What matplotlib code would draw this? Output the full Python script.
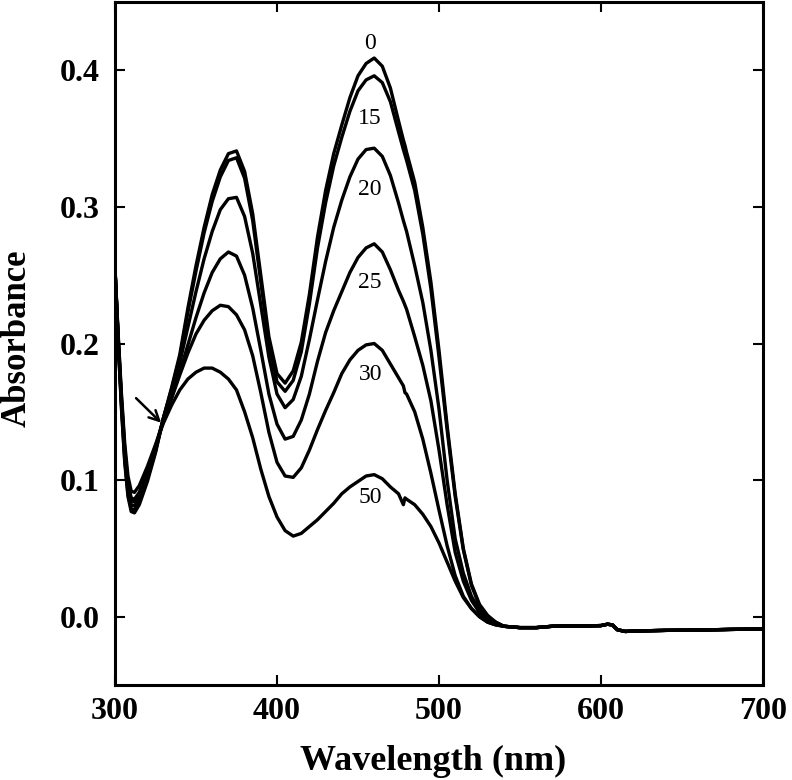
import matplotlib
matplotlib.use("Agg")
import matplotlib.pyplot as plt

# wavelength grid for the absorbing region (nm)
wl = [300, 302, 304, 306, 308, 310, 312, 315, 320, 325, 330, 335, 340, 345,
      350, 355, 360, 365, 370, 375, 380, 385, 390, 395, 400, 405, 410, 415,
      420, 425, 430, 435, 440, 445, 450, 455, 460, 465, 470, 475, 478, 479,
      480, 485, 490, 495, 500, 505, 510, 515, 520, 525, 530, 535]

# shared flat baseline past the bands
base_wl = [540, 550, 560, 570, 580, 590, 600, 604, 607, 610, 615, 620, 640,
           660, 680, 700]
base_abs = [-0.007, -0.008, -0.008, -0.007, -0.0068, -0.0068, -0.0065,
            -0.0055, -0.006, -0.0095, -0.0108, -0.0105, -0.0100, -0.0098,
            -0.0093, -0.0090]

labels = ["0", "15", "20", "25", "30", "50"]

abs_0 = [.255, .200, .152, .113, .088, .077, .076, .082, .099, .120, .146, .168,
         .192, .226, .257, .285, .309, .327, .339, .341, .326, .295, .250, .205,
         .178, .171, .180, .201, .236, .278, .312, .339, .360, .380, .396, .405,
         .409, .403, .387, .363, .349, .345, .340, .318, .285, .245, .195, .140,
         .090, .050, .024, .009, .001, -.004]
abs_15 = [.255, .201, .154, .115, .090, .079, .078, .084, .101, .121, .146, .167,
          .190, .223, .253, .281, .304, .322, .334, .336, .321, .290, .245, .200,
          .172, .165, .173, .194, .229, .270, .303, .330, .351, .370, .385, .393,
          .396, .391, .377, .355, .342, .338, .334, .312, .280, .240, .190, .137,
          .088, .049, .023, .008, .000, -.004]
abs_20 = [.254, .202, .156, .118, .093, .082, .081, .087, .103, .122, .146, .165,
          .186, .212, .238, .262, .282, .298, .306, .307, .293, .266, .228, .190,
          .163, .153, .159, .176, .203, .232, .260, .285, .305, .322, .335, .342,
          .343, .337, .323, .303, .290, .286, .282, .257, .230, .195, .152, .100,
          .057, .032, .015, .005, -.002, -.005]
abs_25 = [.254, .203, .158, .121, .096, .085, .084, .089, .105, .123, .145, .161,
          .179, .199, .219, .237, .252, .262, .267, .264, .250, .226, .195, .163,
          .141, .130, .132, .144, .163, .187, .208, .224, .238, .252, .263, .270,
          .273, .267, .254, .239, .231, .228, .225, .205, .184, .158, .122, .082,
          .047, .026, .012, .003, -.003, -.005]
abs_30 = [.254, .204, .160, .123, .098, .087, .086, .091, .107, .125, .145, .160,
          .177, .193, .207, .217, .224, .228, .227, .221, .210, .191, .164, .135,
          .113, .103, .102, .109, .122, .137, .151, .164, .178, .188, .195, .199,
          .200, .195, .185, .175, .169, .164, .163, .150, .130, .105, .078, .052,
          .030, .015, .006, .000, -.004, -.006]
abs_50 = [.255, .206, .163, .127, .103, .092, .091, .096, .110, .126, .142, .155,
          .166, .174, .179, .182, .182, .179, .174, .166, .150, .131, .108, .088,
          .073, .063, .059, .061, .066, .071, .077, .083, .090, .095, .099, .103,
          .104, .101, .095, .090, .082, .087, .086, .082, .075, .066, .054, .040,
          .026, .014, .006, .000, -.004, -.006]
spectra = [abs_0, abs_15, abs_20, abs_25, abs_30, abs_50]

# where the curve numbers sit (nm, absorbance)
label_x = [457.5, 457.5, 457.5, 457.5, 457.5, 457.5]
label_y = [0.420, 0.365, 0.313, 0.245, 0.177, 0.087]

serif = "Liberation Serif"

fig = plt.figure(figsize=(7.92, 7.8), dpi=100)
ax = fig.add_axes([0.1452, 0.1218, 0.8182, 0.8756])

for a in spectra:
    ax.plot(wl + base_wl, a + base_abs, color="black", lw=2.4,
            solid_joinstyle="round")

for lab, x, y in zip(labels, label_x, label_y):
    ax.text(x, y, lab, ha="center", va="center", fontsize=17, family=serif)

# arrow at the isosbestic point
ax.annotate("", xy=(328.5, 0.142), xytext=(313, 0.160),
            arrowprops=dict(arrowstyle="->", lw=1.8, color="black",
                            mutation_scale=18, shrinkA=0, shrinkB=0))

ax.set_xlim(300, 700)
ax.set_ylim(-0.05, 0.45)
ax.set_xticks([300, 400, 500, 600, 700])
ax.set_yticks([0.0, 0.1, 0.2, 0.3, 0.4])
ax.set_yticklabels(["0.0", "0.1", "0.2", "0.3", "0.4"])

for s in ax.spines.values():
    s.set_linewidth(2.2)
ax.tick_params(direction="in", length=7, width=1.5, top=True, right=True,
               labelsize=23)
ax.tick_params(axis="x", pad=9)
ax.tick_params(axis="y", pad=11)
for t in ax.get_xticklabels() + ax.get_yticklabels():
    t.set_family(serif)
    t.set_fontweight("bold")

fig.text(0.547, 0.0128, "Wavelength (nm)", ha="center", va="baseline",
         fontsize=26, fontweight="bold", family=serif)
fig.text(0.0215, 0.5667, "Absorbance", ha="center", va="center",
         rotation=90, fontsize=25, fontweight="bold", family=serif)

fig.savefig("out.png", dpi=100)
